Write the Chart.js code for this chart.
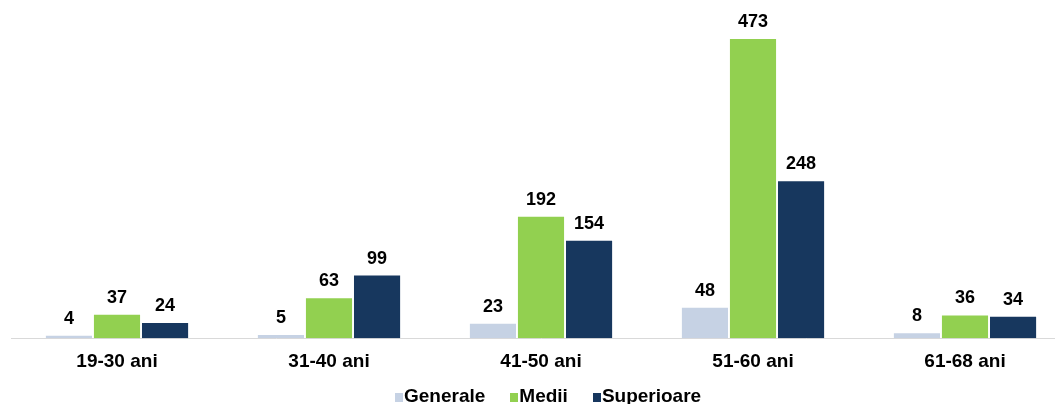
<!DOCTYPE html>
<html>
<head>
<meta charset="utf-8">
<script src="https://cdn.jsdelivr.net/npm/chart.js@4/dist/chart.umd.min.js"></script>
<style>
  body { margin: 0; overflow: hidden; background: #fff; }
  #wrap { width: 1082px; height: 404px; position: relative; }
  #legend {
    position: absolute; left: 395px; top: 385px;
    display: flex; align-items: center;
    font: bold 19px 'Liberation Sans', Arial, sans-serif; color: #000;
  }
  #legend span.item { display: flex; align-items: center; margin-right: 25px; }
  #legend span.box { width: 8px; height: 9px; margin-right: 1px; margin-top: 2px; display: inline-block; }
</style>
</head>
<body>
<div id="wrap">
  <canvas id="chart"></canvas>
  <div id="legend"></div>
</div>
<script>
// age groups and counts per education level
var categories = ["19-30 ani", "31-40 ani", "41-50 ani", "51-60 ani", "61-68 ani"];
var seriesNames = ["Generale", "Medii", "Superioare"];
var generale = [4, 5, 23, 48, 8];
var medii = [37, 63, 192, 473, 36];
var superioare = [24, 99, 154, 248, 34];
var colors = ["#c6d2e4", "#92d050", "#17375e"];

// draws the value above each bar
var valueLabels = {
    id: "valueLabels",
    afterDatasetsDraw: function(chart) {
        var ctx = chart.ctx;
        ctx.save();
        ctx.font = "bold 18px 'Liberation Sans', Arial, sans-serif";
        ctx.fillStyle = "#000";
        ctx.textAlign = "center";
        ctx.textBaseline = "middle";
        chart.data.datasets.forEach(function(ds, i) {
            var meta = chart.getDatasetMeta(i);
            meta.data.forEach(function(bar, j) {
                ctx.fillText(ds.data[j], bar.x, bar.y - 17);
            });
        });
        ctx.restore();
    }
};

var chart = new Chart(document.getElementById("chart"), {
    type: "bar",
    data: {
        labels: categories,
        datasets: [
            { label: seriesNames[0], data: generale, backgroundColor: colors[0] },
            { label: seriesNames[1], data: medii, backgroundColor: colors[1] },
            { label: seriesNames[2], data: superioare, backgroundColor: colors[2] }
        ]
    },
    options: {
        responsive: true,
        maintainAspectRatio: false,
        animation: false,
        layout: { padding: { top: 22, left: 11, right: 11, bottom: 27 } },
        datasets: { bar: { barPercentage: 0.96, categoryPercentage: 0.68 } },
        scales: {
            x: {
                grid: { display: false },
                border: { color: "#d9d9d9", width: 1 },
                ticks: {
                    color: "#000",
                    padding: 4,
                    font: { family: "'Liberation Sans', Arial, sans-serif", size: 19, weight: "bold" }
                }
            },
            y: { display: false, min: 0, max: 500 }
        },
        plugins: {
            legend: { display: false },
            tooltip: { enabled: false }
        }
    },
    plugins: [valueLabels]
});

// legend as html below the chart
var legendEl = document.getElementById("legend");
seriesNames.forEach(function(name, i) {
    var item = document.createElement("span");
    item.className = "item";
    var box = document.createElement("span");
    box.className = "box";
    box.style.background = colors[i];
    item.appendChild(box);
    item.appendChild(document.createTextNode(name));
    legendEl.appendChild(item);
});
</script>
</body>
</html>
